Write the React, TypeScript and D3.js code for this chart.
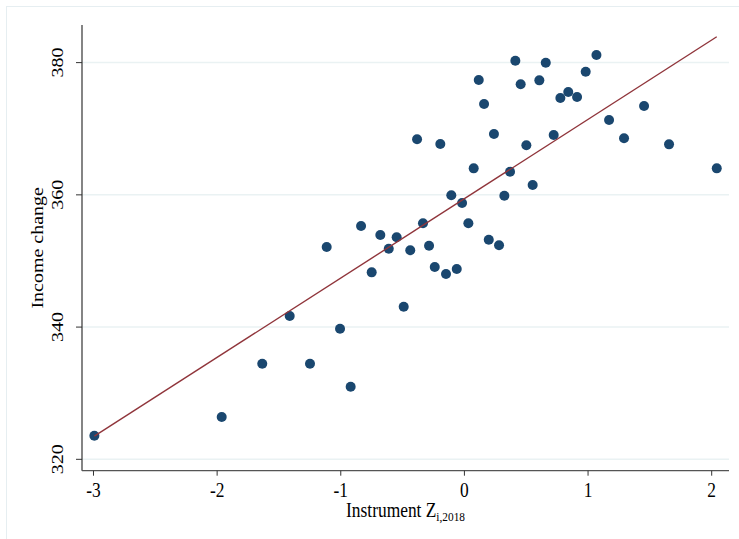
import React from "react";
import * as d3 from "d3";

const instrumentZ: number[] = [
  -2.993, -1.963, -1.635, -1.413, -1.249, -1.006, -0.92, -1.114, -0.836, -0.75,
  -0.68, -0.612, -0.548, -0.491, -0.438, -0.383, -0.335, -0.286, -0.24, -0.195,
  -0.149, -0.106, -0.062, -0.019, 0.032, 0.075, 0.116, 0.159, 0.197, 0.239,
  0.28, 0.323, 0.369, 0.412, 0.455, 0.501, 0.552, 0.606, 0.658, 0.722,
  0.776, 0.84, 0.911, 0.981, 1.068, 1.17, 1.291, 1.453, 1.655, 2.041,
];
const incomeChange: number[] = [
  323.57, 326.4, 334.46, 341.68, 334.46, 339.75, 330.98, 352.11, 355.29, 348.28,
  353.93, 351.85, 353.58, 343.08, 351.61, 368.4, 355.7, 352.31, 349.09, 367.69,
  348.03, 359.93, 348.78, 358.77, 355.7, 364.01, 377.37, 373.74, 353.22, 369.2,
  352.37, 359.87, 363.5, 380.29, 376.72, 367.49, 361.49, 377.32, 379.98, 369.05,
  374.65, 375.55, 374.8, 378.62, 381.15, 371.32, 368.55, 373.44, 367.64, 364.01,
];
// linear fit (estimated from underlying data, as drawn in the chart)
const fitIntercept = 359.42;
const fitSlope = 12.0;
const xTicks: number[] = [-3, -2, -1, 0, 1, 2];
const yTicks: number[] = [320, 340, 360, 380];

const W = 739;
const H = 539;
const left = 82;
const right = 729;
const top = 25;
const bottom = 470.7;
const FONT = "'Liberation Serif', 'Times New Roman', serif";
const FS = 20;
const SX = 0.87;

export default function App() {
  const x = d3.scaleLinear().domain([-3.093, 2.14]).range([left, right]);
  const y = d3.scaleLinear().domain([318.28, 385.69]).range([bottom, top]);

  const pts = instrumentZ.map((z, i) => ({ z, v: incomeChange[i] }));
  const [x0, x1] = d3.extent(instrumentZ) as [number, number];
  const fit = [x0, x1].map((z) => ({ z, v: fitIntercept + fitSlope * z }));
  const lineGen = d3
    .line<{ z: number; v: number }>()
    .x((d) => x(d.z))
    .y((d) => y(d.v));

  return (
    <svg
      width={W}
      height={H}
      style={{ position: "absolute", left: 0, top: 0, background: "#fff" }}
      fontFamily={FONT}
    >
      <rect x={6.5} y={6.5} width={W + 20} height={H + 20} fill="#fff" stroke="#e6eef1" strokeWidth={1} />
      {yTicks.map((t) => (
        <line key={"g" + t} x1={left} x2={right} y1={y(t)} y2={y(t)} stroke="#eaf2f3" strokeWidth={1.5} />
      ))}
      <line x1={left} x2={left} y1={top} y2={bottom} stroke="#333" strokeWidth={1.2} />
      <line x1={left} x2={right} y1={bottom} y2={bottom} stroke="#555" strokeWidth={1.2} />
      {yTicks.map((t) => (
        <g key={"y" + t}>
          <line x1={left - 6} x2={left} y1={y(t)} y2={y(t)} stroke="#333" strokeWidth={1} />
          <text
            transform={`translate(63,${y(t)}) rotate(-90) scale(1,${SX})`}
            textAnchor="middle"
            fontSize={FS}
            fill="#000"
          >
            {t}
          </text>
        </g>
      ))}
      {xTicks.map((t) => (
        <g key={"x" + t}>
          <line x1={x(t)} x2={x(t)} y1={bottom} y2={bottom + 5} stroke="#333" strokeWidth={1} />
          <text
            transform={`translate(${x(t)},497) scale(${SX},1)`}
            textAnchor="middle"
            fontSize={FS}
            fill="#000"
          >
            {t}
          </text>
        </g>
      ))}
      <text
        transform={`translate(43,${(top + bottom) / 2}) rotate(-90) scale(1,${SX})`}
        textAnchor="middle"
        fontSize={FS}
        fill="#000"
      >
        Income change
      </text>
      <text
        transform={`translate(${(left + right) / 2},517) scale(${SX},1)`}
        textAnchor="middle"
        fontSize={FS}
        fill="#000"
      >
        Instrument Z
        <tspan fontSize={13} dy={4}>i,2018</tspan>
      </text>
      {pts.map((p, i) => (
        <circle key={i} cx={x(p.z)} cy={y(p.v)} r={5} fill="#1a476f" />
      ))}
      <path d={lineGen(fit) || ""} fill="none" stroke="#90353b" strokeWidth={1.4} />
    </svg>
  );
}
